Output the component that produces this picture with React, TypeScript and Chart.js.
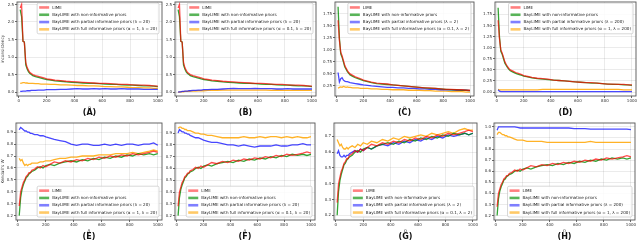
import React, { useEffect, useRef } from "react";
import { Chart, registerables } from "chart.js";
Chart.register(...registerables);

const FONT = '"DejaVu Sans", sans-serif';
Chart.defaults.font.family = FONT;

// ---------- data ----------
const N = [10, 20, 30, 40, 50, 60, 70, 80, 90, 100, 120, 140, 160, 180, 200, 230, 260, 300, 340, 380, 420, 460, 500, 540, 580, 620, 660, 700, 740, 780, 820, 860, 900, 940, 970, 1000];
const X_TICKS = [0, 200, 400, 600, 800, 1000];

// inconsistency (top row)
const LIME_INC_1 = [2.40, 2.50, 1.45, 1.42, 0.85, 0.70, 0.62, 0.56, 0.53, 0.50, 0.47, 0.45, 0.43, 0.41, 0.38, 0.36, 0.34, 0.33, 0.31, 0.30, 0.29, 0.28, 0.27, 0.26, 0.25, 0.25, 0.24, 0.23, 0.22, 0.22, 0.21, 0.20, 0.20, 0.19, 0.18, 0.17];
const NONINF_INC_1 = [2.35, 2.15, 1.45, 1.43, 0.78, 0.66, 0.58, 0.53, 0.50, 0.47, 0.44, 0.42, 0.40, 0.38, 0.36, 0.34, 0.32, 0.31, 0.29, 0.28, 0.27, 0.26, 0.25, 0.25, 0.24, 0.23, 0.22, 0.22, 0.21, 0.20, 0.20, 0.19, 0.18, 0.18, 0.17, 0.16];
const PART_A = [0.02, 0.02, 0.03, 0.03, 0.03, 0.04, 0.04, 0.04, 0.05, 0.05, 0.05, 0.06, 0.06, 0.06, 0.07, 0.07, 0.07, 0.08, 0.08, 0.09, 0.10, 0.09, 0.09, 0.10, 0.09, 0.10, 0.09, 0.09, 0.10, 0.09, 0.09, 0.09, 0.08, 0.08, 0.08, 0.08];
const FULL_A = [0.25, 0.26, 0.27, 0.27, 0.26, 0.26, 0.25, 0.25, 0.25, 0.25, 0.24, 0.24, 0.23, 0.23, 0.23, 0.22, 0.22, 0.21, 0.21, 0.20, 0.19, 0.19, 0.18, 0.18, 0.17, 0.16, 0.16, 0.15, 0.15, 0.14, 0.13, 0.13, 0.12, 0.12, 0.11, 0.11];
const PART_B = [0.00, 0.01, 0.01, 0.02, 0.02, 0.03, 0.03, 0.03, 0.04, 0.04, 0.05, 0.05, 0.06, 0.06, 0.07, 0.07, 0.08, 0.08, 0.09, 0.10, 0.11, 0.10, 0.10, 0.10, 0.11, 0.10, 0.10, 0.10, 0.09, 0.09, 0.10, 0.09, 0.09, 0.09, 0.09, 0.09];
const FULL_B = [0.00, 0.00, 0.01, 0.01, 0.01, 0.02, 0.02, 0.02, 0.02, 0.03, 0.03, 0.03, 0.04, 0.04, 0.04, 0.05, 0.05, 0.05, 0.06, 0.06, 0.06, 0.06, 0.06, 0.06, 0.06, 0.06, 0.06, 0.05, 0.06, 0.05, 0.05, 0.05, 0.05, 0.05, 0.05, 0.05];
const LIME_INC_2 = [1.62, 1.20, 0.95, 0.88, 0.78, 0.68, 0.62, 0.57, 0.53, 0.50, 0.47, 0.44, 0.42, 0.40, 0.37, 0.35, 0.33, 0.31, 0.30, 0.29, 0.27, 0.26, 0.25, 0.24, 0.23, 0.22, 0.21, 0.21, 0.20, 0.19, 0.18, 0.18, 0.17, 0.17, 0.16, 0.16];
const NONINF_INC_2 = [1.90, 1.25, 0.92, 0.85, 0.75, 0.65, 0.60, 0.55, 0.51, 0.48, 0.45, 0.42, 0.40, 0.38, 0.36, 0.34, 0.32, 0.30, 0.29, 0.28, 0.27, 0.26, 0.25, 0.24, 0.23, 0.22, 0.21, 0.20, 0.20, 0.19, 0.18, 0.17, 0.17, 0.16, 0.16, 0.15];
const PART_C = [0.53, 0.33, 0.40, 0.42, 0.37, 0.35, 0.34, 0.34, 0.33, 0.32, 0.31, 0.30, 0.29, 0.28, 0.27, 0.26, 0.25, 0.24, 0.23, 0.22, 0.22, 0.21, 0.21, 0.20, 0.20, 0.19, 0.19, 0.18, 0.18, 0.17, 0.17, 0.17, 0.16, 0.16, 0.16, 0.15];
const FULL_C = [0.20, 0.22, 0.23, 0.22, 0.24, 0.23, 0.22, 0.23, 0.22, 0.22, 0.21, 0.21, 0.21, 0.20, 0.20, 0.20, 0.19, 0.19, 0.18, 0.18, 0.17, 0.17, 0.17, 0.16, 0.16, 0.16, 0.15, 0.15, 0.14, 0.14, 0.14, 0.13, 0.13, 0.13, 0.12, 0.12];
const PART_D = [0.05, 0.02, 0.01, 0.01, 0.01, 0.01, 0.01, 0.01, 0.01, 0.01, 0.01, 0.01, 0.01, 0.01, 0.01, 0.01, 0.01, 0.01, 0.01, 0.01, 0.01, 0.01, 0.01, 0.01, 0.01, 0.01, 0.01, 0.01, 0.01, 0.01, 0.01, 0.01, 0.01, 0.01, 0.01, 0.01];
const FULL_D = [0.06, 0.05, 0.05, 0.05, 0.05, 0.05, 0.05, 0.05, 0.05, 0.05, 0.05, 0.05, 0.05, 0.05, 0.05, 0.05, 0.05, 0.05, 0.06, 0.06, 0.06, 0.06, 0.06, 0.06, 0.06, 0.06, 0.06, 0.06, 0.06, 0.06, 0.06, 0.06, 0.06, 0.05, 0.05, 0.05];

// Kendall's W (bottom row)
const LIME_KW = [0.28, 0.40, 0.44, 0.48, 0.50, 0.53, 0.54, 0.56, 0.56, 0.58, 0.59, 0.61, 0.60, 0.62, 0.61, 0.63, 0.65, 0.64, 0.66, 0.65, 0.67, 0.66, 0.68, 0.67, 0.69, 0.68, 0.70, 0.69, 0.71, 0.70, 0.72, 0.71, 0.72, 0.73, 0.74, 0.73];
const NONINF_KW = [0.20, 0.35, 0.42, 0.46, 0.49, 0.52, 0.53, 0.55, 0.56, 0.57, 0.58, 0.60, 0.61, 0.60, 0.62, 0.63, 0.62, 0.64, 0.65, 0.66, 0.65, 0.67, 0.66, 0.68, 0.67, 0.69, 0.68, 0.70, 0.69, 0.71, 0.70, 0.72, 0.71, 0.72, 0.71, 0.72];
const PART_E = [0.92, 0.94, 0.93, 0.92, 0.91, 0.91, 0.90, 0.90, 0.89, 0.89, 0.88, 0.88, 0.87, 0.87, 0.86, 0.85, 0.84, 0.83, 0.82, 0.80, 0.79, 0.80, 0.80, 0.79, 0.79, 0.80, 0.79, 0.80, 0.79, 0.80, 0.80, 0.79, 0.80, 0.80, 0.81, 0.79];
const FULL_E = [0.68, 0.66, 0.67, 0.64, 0.62, 0.63, 0.62, 0.63, 0.63, 0.64, 0.64, 0.64, 0.65, 0.65, 0.66, 0.66, 0.67, 0.68, 0.68, 0.69, 0.69, 0.70, 0.70, 0.70, 0.71, 0.71, 0.71, 0.72, 0.72, 0.72, 0.73, 0.72, 0.73, 0.74, 0.75, 0.74];
const PART_F = [0.90, 0.93, 0.92, 0.91, 0.91, 0.90, 0.90, 0.89, 0.89, 0.88, 0.87, 0.86, 0.86, 0.85, 0.84, 0.83, 0.82, 0.82, 0.81, 0.80, 0.80, 0.79, 0.80, 0.79, 0.78, 0.79, 0.79, 0.79, 0.80, 0.79, 0.79, 0.80, 0.80, 0.81, 0.80, 0.80];
const FULL_F = [0.94, 0.95, 0.95, 0.94, 0.94, 0.93, 0.93, 0.92, 0.92, 0.92, 0.91, 0.90, 0.90, 0.89, 0.89, 0.88, 0.88, 0.87, 0.86, 0.86, 0.86, 0.86, 0.87, 0.86, 0.86, 0.87, 0.86, 0.87, 0.87, 0.86, 0.87, 0.86, 0.87, 0.86, 0.86, 0.87];
const PART_G = [0.59, 0.61, 0.58, 0.57, 0.57, 0.58, 0.57, 0.58, 0.58, 0.59, 0.60, 0.61, 0.60, 0.62, 0.61, 0.63, 0.62, 0.64, 0.65, 0.64, 0.66, 0.65, 0.67, 0.66, 0.68, 0.67, 0.69, 0.68, 0.70, 0.69, 0.71, 0.70, 0.71, 0.72, 0.71, 0.72];
const FULL_G = [0.68, 0.66, 0.64, 0.65, 0.63, 0.62, 0.62, 0.63, 0.62, 0.63, 0.64, 0.63, 0.65, 0.64, 0.66, 0.65, 0.67, 0.66, 0.68, 0.67, 0.69, 0.68, 0.70, 0.69, 0.70, 0.71, 0.70, 0.72, 0.71, 0.72, 0.73, 0.72, 0.74, 0.75, 0.74, 0.74];
const PART_H = [0.97, 1.00, 1.00, 1.00, 1.00, 1.00, 1.00, 1.00, 1.00, 1.00, 1.00, 1.00, 0.995, 0.99, 0.99, 0.99, 0.99, 0.99, 0.99, 0.99, 0.99, 0.99, 0.99, 0.99, 0.985, 0.985, 0.985, 0.98, 0.98, 0.98, 0.98, 0.98, 0.98, 0.98, 0.98, 0.975];
const FULL_H = [0.93, 0.95, 0.95, 0.94, 0.93, 0.93, 0.92, 0.92, 0.91, 0.91, 0.90, 0.89, 0.88, 0.88, 0.88, 0.87, 0.87, 0.87, 0.87, 0.86, 0.86, 0.86, 0.86, 0.86, 0.86, 0.86, 0.86, 0.87, 0.86, 0.86, 0.86, 0.86, 0.86, 0.86, 0.86, 0.86];

const Y_TICKS_AB = [0, 0.5, 1.0, 1.5, 2.0, 2.5];
const Y_TICKS_C = [0.25, 0.5, 0.75, 1.0, 1.25, 1.5, 1.75];
const Y_TICKS_D = [0, 0.25, 0.5, 0.75, 1.0, 1.25, 1.5, 1.75];
const Y_TICKS_EF = [0.2, 0.3, 0.4, 0.5, 0.6, 0.7, 0.8, 0.9];
const Y_TICKS_G = [0.2, 0.3, 0.4, 0.5, 0.6, 0.7];
const Y_TICKS_H = [0.2, 0.3, 0.4, 0.5, 0.6, 0.7, 0.8, 0.9, 1.0];

const legendNames = (lam: string, alpha: string) => [
  "LIME",
  "BayLIME with non-informative priors",
  `BayLIME with partial informative priors (λ = ${lam})`,
  `BayLIME with full informative priors (α = ${alpha}, λ = ${lam})`,
];

// ---------- style ----------
const X_MIN = -13;
const X_MAX = 1030;
const SERIES_COLORS = ["rgba(255,0,0,0.7)", "rgba(0,140,0,0.8)", "rgba(0,0,255,0.72)", "rgba(255,165,0,0.85)"];
const HANDLE_COLORS = ["rgba(255,0,0,0.5)", "rgba(0,140,0,0.65)", "rgba(0,0,255,0.5)", "rgba(255,165,0,0.6)"];
const GRID = "rgba(0,0,0,0.1)";

type Box = { cl: number; ct: number; cw: number; ch: number; pl: number; pt: number; pr: number; pb: number };
type PanelCfg = {
  label: string;
  ylabel: string | null;
  row: number;
  box: Box;
  ymin: number;
  ymax: number;
  yticks: number[];
  ydec: number;
  series: number[][];
  names: string[];
  legendAt: "top" | "bottom";
};

const PANELS: PanelCfg[] = [
  { label: "(A)", ylabel: "inconsistency", row: 0, box: { cl: 0, ct: 0, cw: 166, ch: 120, pl: 17, pt: 2, pr: 162, pb: 96 }, ymin: -0.11, ymax: 2.57, yticks: Y_TICKS_AB, ydec: 1, series: [LIME_INC_1, NONINF_INC_1, PART_A, FULL_A], names: legendNames("20", "1"), legendAt: "top" },
  { label: "(B)", ylabel: null, row: 0, box: { cl: 160, ct: 0, cw: 160, ch: 120, pl: 175, pt: 2, pr: 316, pb: 96 }, ymin: -0.11, ymax: 2.57, yticks: Y_TICKS_AB, ydec: 1, series: [LIME_INC_1, NONINF_INC_1, PART_B, FULL_B], names: legendNames("20", "0.1"), legendAt: "top" },
  { label: "(C)", ylabel: null, row: 0, box: { cl: 320, ct: 0, cw: 160, ch: 120, pl: 335, pt: 2, pr: 474, pb: 96 }, ymin: 0.04, ymax: 2.0, yticks: Y_TICKS_C, ydec: 2, series: [LIME_INC_2, NONINF_INC_2, PART_C, FULL_C], names: legendNames("2", "0.1"), legendAt: "top" },
  { label: "(D)", ylabel: null, row: 0, box: { cl: 480, ct: 0, cw: 160, ch: 120, pl: 495, pt: 2, pr: 636, pb: 96 }, ymin: -0.09, ymax: 2.03, yticks: Y_TICKS_D, ydec: 2, series: [LIME_INC_2, NONINF_INC_2, PART_D, FULL_D], names: legendNames("200", "1"), legendAt: "top" },
  { label: "(E)", ylabel: "Kendall's W", row: 1, box: { cl: 0, ct: 120, cw: 166, ch: 121, pl: 16, pt: 123, pr: 162, pb: 220 }, ymin: 0.163, ymax: 0.977, yticks: Y_TICKS_EF, ydec: 1, series: [LIME_KW, NONINF_KW, PART_E, FULL_E], names: legendNames("20", "1"), legendAt: "bottom" },
  { label: "(F)", ylabel: null, row: 1, box: { cl: 160, ct: 120, cw: 160, ch: 121, pl: 175, pt: 123, pr: 315, pb: 220 }, ymin: 0.163, ymax: 0.985, yticks: Y_TICKS_EF, ydec: 1, series: [LIME_KW, NONINF_KW, PART_F, FULL_F], names: legendNames("20", "0.1"), legendAt: "bottom" },
  { label: "(G)", ylabel: null, row: 1, box: { cl: 320, ct: 120, cw: 160, ch: 121, pl: 334, pt: 123, pr: 477, pb: 220 }, ymin: 0.17, ymax: 0.785, yticks: Y_TICKS_G, ydec: 1, series: [LIME_KW, NONINF_KW, PART_G, FULL_G], names: legendNames("2", "0.1"), legendAt: "bottom" },
  { label: "(H)", ylabel: null, row: 1, box: { cl: 480, ct: 120, cw: 160, ch: 121, pl: 494, pt: 123, pr: 635, pb: 220 }, ymin: 0.16, ymax: 1.035, yticks: Y_TICKS_H, ydec: 1, series: [LIME_KW, NONINF_KW, PART_H, FULL_H], names: legendNames("200", "1"), legendAt: "bottom" },
];

function makeOverlay(p: PanelCfg) {
  return {
    id: "overlay",
    afterDatasetsDraw(chart: any) {
      const { ctx, chartArea: ca } = chart;
      ctx.save();
      // frame
      ctx.strokeStyle = "#555";
      ctx.lineWidth = 0.9;
      ctx.strokeRect(ca.left, ca.top, ca.right - ca.left, ca.bottom - ca.top);

      // legend
      const fs = 4.1;
      ctx.font = `${fs}px ${FONT}`;
      const rowH = 7.3;
      const padL = 2, handleW = 10, gap = 3, padR = 2, padT = 0.8;
      const textW = Math.max(...p.names.map((n) => ctx.measureText(n).width));
      const w = padL + handleW + gap + textW + padR;
      const h = padT * 2 + rowH * p.names.length;
      const x0 = ca.right - 3 - w;
      const y0 = p.legendAt === "top" ? ca.top + 1 : ca.bottom - 3 - h;
      ctx.beginPath();
      if ((ctx as any).roundRect) (ctx as any).roundRect(x0, y0, w, h, 1.5);
      else ctx.rect(x0, y0, w, h);
      ctx.fillStyle = "rgba(255,255,255,0.85)";
      ctx.fill();
      ctx.strokeStyle = "rgba(180,180,180,0.9)";
      ctx.lineWidth = 0.6;
      ctx.stroke();
      p.names.forEach((name, i) => {
        const cy = y0 + padT + rowH * (i + 0.5);
        ctx.strokeStyle = HANDLE_COLORS[i];
        ctx.lineWidth = 2.6;
        ctx.beginPath();
        ctx.moveTo(x0 + padL, cy);
        ctx.lineTo(x0 + padL + handleW, cy);
        ctx.stroke();
        ctx.fillStyle = "#222";
        ctx.textAlign = "left";
        ctx.textBaseline = "middle";
        ctx.fillText(name, x0 + padL + handleW + gap, cy);
      });

      // panel label
      ctx.font = `bold 8px ${FONT}`;
      ctx.fillStyle = "#111";
      ctx.textAlign = "center";
      ctx.textBaseline = "middle";
      ctx.fillText(p.label, (ca.left + ca.right) / 2, ca.bottom + 17);
      ctx.restore();
    },
  };
}

function PanelChart({ p }: { p: PanelCfg }) {
  const ref = useRef<HTMLCanvasElement | null>(null);
  useEffect(() => {
    const canvas = ref.current;
    if (!canvas) return;
    const b = p.box;
    const tickFont = { size: 4, family: FONT };
    const chart = new Chart(canvas, {
      type: "line",
      data: {
        datasets: p.series.map((s, i) => ({
          label: p.names[i],
          data: N.map((x, j) => ({ x, y: s[j] })),
          borderColor: SERIES_COLORS[i],
          backgroundColor: SERIES_COLORS[i],
          borderWidth: 1.3,
          pointRadius: 0,
          tension: 0,
          fill: false,
        })),
      },
      options: {
        animation: false,
        responsive: false,
        devicePixelRatio: 1,
        events: [],
        layout: { padding: { left: 0, top: b.pt - b.ct, right: b.cl + b.cw - b.pr, bottom: 0 } },
        plugins: { legend: { display: false }, tooltip: { enabled: false }, title: { display: false } },
        scales: {
          x: {
            type: "linear",
            bounds: "data",
            min: X_MIN,
            max: X_MAX,
            afterBuildTicks: (s: any) => {
              s.ticks = X_TICKS.map((v) => ({ value: v }));
            },
            afterFit: (s: any) => {
              s.height = b.ct + b.ch - b.pb;
              s.paddingLeft = 0;
              s.paddingRight = 0;
            },
            ticks: { font: tickFont, color: "#333", padding: 1, maxRotation: 0, minRotation: 0, autoSkip: false, callback: (v: any) => String(v) },
            grid: { color: GRID, lineWidth: 0.8, tickLength: 2, tickColor: "#444", tickWidth: 0.8 },
            border: { display: false },
            title: { display: true, text: "n", color: "#333", font: { size: 4.5, style: "italic", family: FONT }, padding: { top: 0, bottom: p.row === 0 ? 9.8 : 7.8 } },
          },
          y: {
            type: "linear",
            bounds: "data",
            min: p.ymin,
            max: p.ymax,
            afterBuildTicks: (s: any) => {
              s.ticks = p.yticks.map((v) => ({ value: v }));
            },
            afterFit: (s: any) => {
              s.width = b.pl - b.cl;
              s.paddingTop = 0;
              s.paddingBottom = 0;
            },
            ticks: { font: tickFont, color: "#333", padding: 1, autoSkip: false, callback: (v: any) => Number(v).toFixed(p.ydec) },
            grid: { color: GRID, lineWidth: 0.8, tickLength: 2, tickColor: "#444", tickWidth: 0.8 },
            border: { display: false },
            title: { display: !!p.ylabel, text: p.ylabel || "", color: "#333", font: { size: 4.2, family: FONT }, padding: { top: 0.5, bottom: 0 } },
          },
        },
      } as any,
      plugins: [makeOverlay(p)],
    });
    return () => chart.destroy();
  }, [p]);
  const b = p.box;
  return (
    <canvas
      ref={ref}
      width={b.cw}
      height={b.ch}
      style={{ position: "absolute", left: b.cl, top: b.ct, width: b.cw, height: b.ch }}
    />
  );
}

export default function App() {
  return (
    <div style={{ position: "absolute", left: 0, top: 0, width: 640, height: 241, background: "#fff", overflow: "hidden" }}>
      {PANELS.map((p) => (
        <PanelChart key={p.label} p={p} />
      ))}
    </div>
  );
}
